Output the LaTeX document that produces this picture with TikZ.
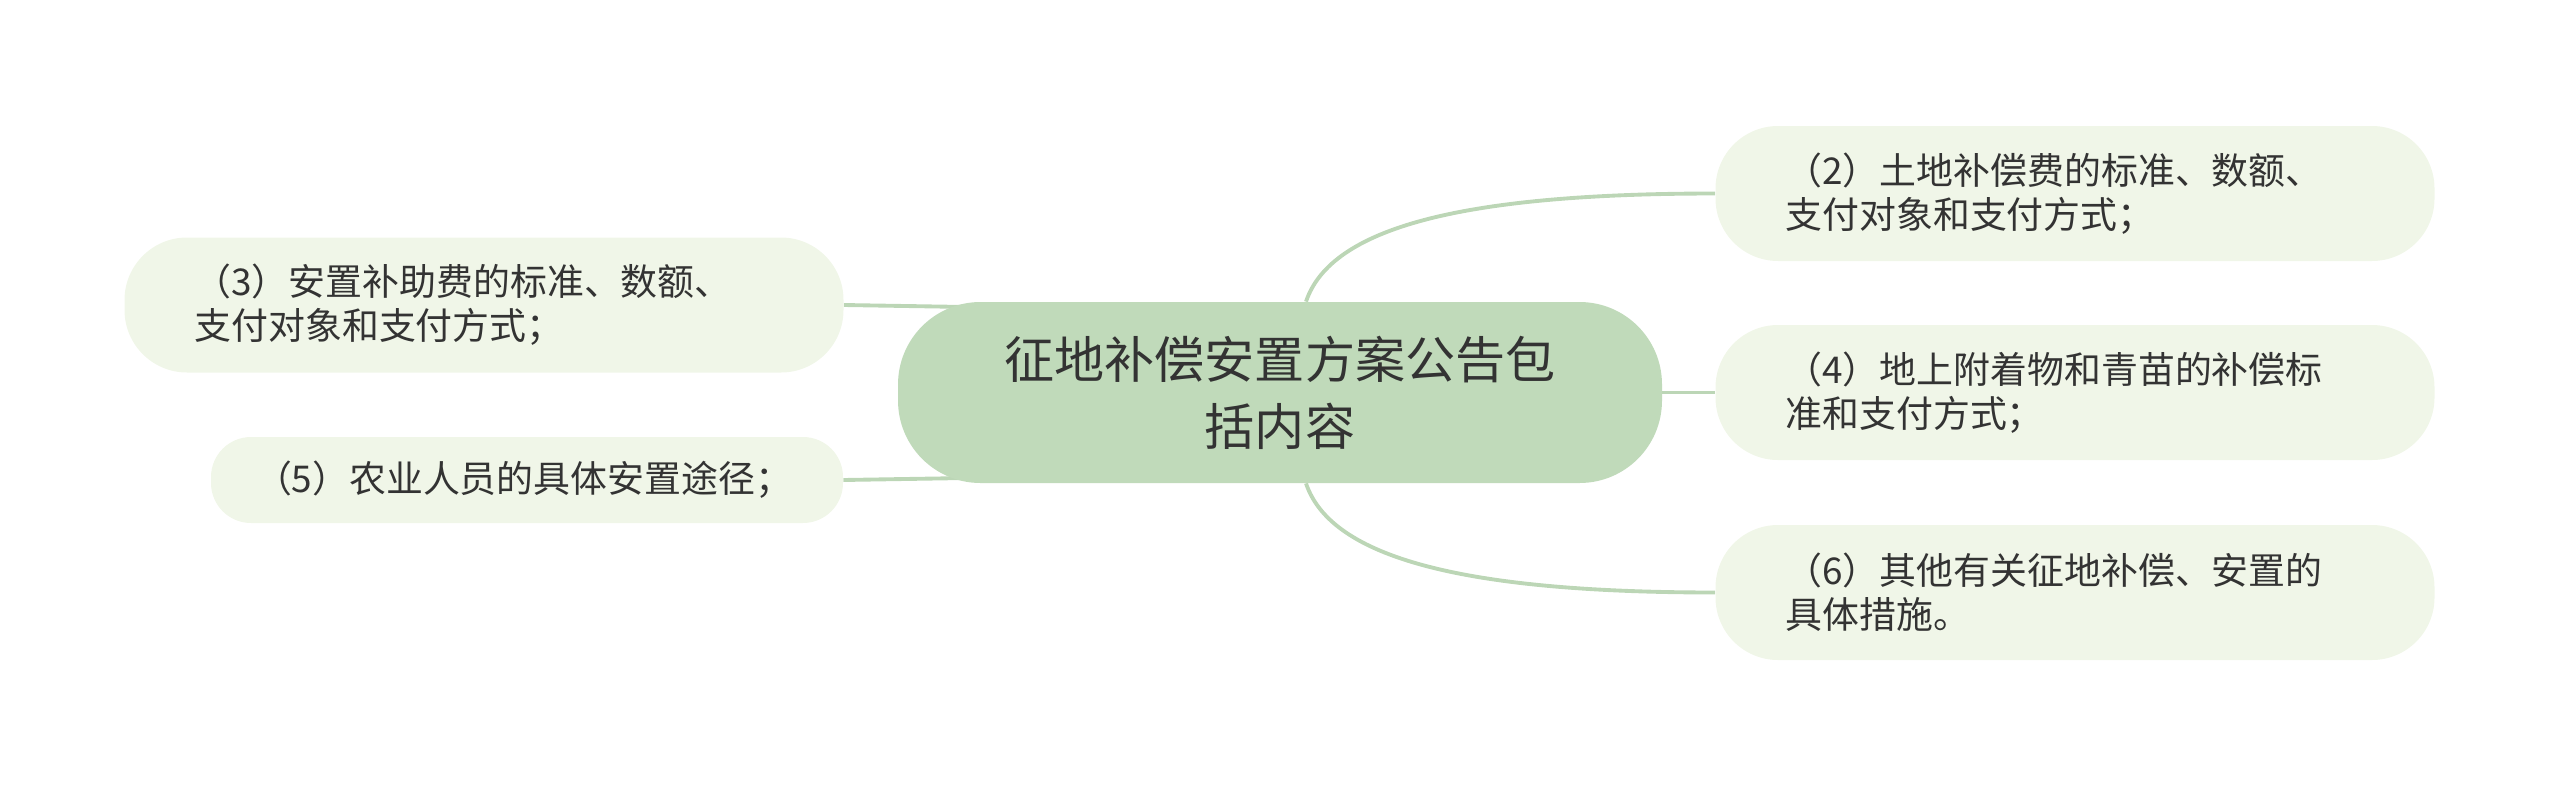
\documentclass[tikz,border=0pt]{standalone}
\usepackage{fontspec}
\newfontfamily\cjk{Noto Sans CJK SC}
\usepackage{tikz}
\usetikzlibrary{backgrounds,calc}
\definecolor{sage}{RGB}{192, 218, 186}
\definecolor{mint}{RGB}{240, 246, 232}
\definecolor{fern}{RGB}{188, 214, 182}
\definecolor{ink}{RGB}{51, 51, 51}
\tikzset{
    topic/.style={fill=sage, text=ink, rounded corners=1.65cm, minimum width=15.28cm, minimum height=3.62cm,
                  inner sep=0pt, align=center, font=\cjk\fontsize{28.5}{38}\selectfont},
    leaf/.style={fill=mint, text=ink, rounded corners=1.25cm, minimum width=14.38cm, minimum height=2.7cm,
                 inner xsep=1.4cm, inner ysep=0pt, text width=11.58cm, align=left, font=\cjk\fontsize{21}{25}\selectfont},
    branch/.style={draw=fern, line width=2.2pt}
}
\begin{document}
\begin{tikzpicture}
            \useasboundingbox (0.00, 0.00) rectangle (51.20,-15.70);
            % Central topic
            \node[topic] (topic) at (25.60, -7.85) {征地补偿安置方案公告包\\括内容};
            % Right side
            \node[leaf]  (p2)    at (41.50, -3.87) {（2）土地补偿费的标准、数额、\\支付对象和支付方式；};
            \node[leaf]  (p4)    at (41.50, -7.85) {（4）地上附着物和青苗的补偿标\\准和支付方式；};
            \node[leaf]  (p6)    at (41.50,-11.85) {（6）其他有关征地补偿、安置的\\具体措施。};
            % Left side
            \node[leaf]  (p3)    at ( 9.68, -6.10) {（3）安置补助费的标准、数额、\\支付对象和支付方式；};
            \node[leaf, rounded corners=0.8cm, minimum width=12.64cm, minimum height=1.72cm,
                  inner xsep=0.88cm, text width=10.88cm]
                         (p5)    at (10.54, -9.60) {（5）农业人员的具体安置途径；};
            % Branches behind the nodes
            \begin{scope}[on background layer]
                \draw[branch] ([xshift=0.52cm]topic.north) .. controls ($(topic.north)+(1.02, 1.5)$) and ($(p2.west)+(-5,0)$) .. (p2.west);
                \draw[branch] (topic.east) -- (p4.west);
                \draw[branch] ([xshift=0.52cm]topic.south) .. controls ($(topic.south)+(1.02,-1.5)$) and ($(p6.west)+(-5,0)$) .. (p6.west);
                \draw[branch] (p3.east) -- ([xshift=2cm, yshift= 1.7cm]topic.west);
                \draw[branch] (p5.east) -- ([xshift=2cm, yshift=-1.7cm]topic.west);
            \end{scope}
\end{tikzpicture}
\end{document}
